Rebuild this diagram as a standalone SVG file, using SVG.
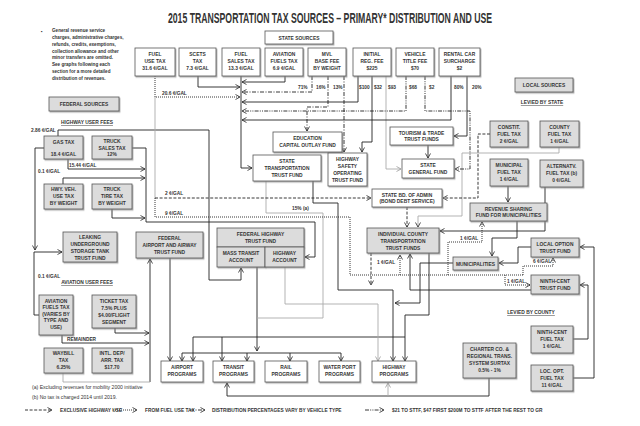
<svg xmlns="http://www.w3.org/2000/svg" width="640" height="426" viewBox="0 0 640 426">
<defs>
<filter id="sh" x="-10%" y="-10%" width="130%" height="140%"><feDropShadow dx="1" dy="1.2" stdDeviation="0.5" flood-color="#888" flood-opacity="0.7"/></filter>
<marker id="a" markerWidth="6" markerHeight="6" refX="5" refY="3" orient="auto" markerUnits="userSpaceOnUse"><path d="M0.5,0.5 L5,3 L0.5,5.5" fill="none" stroke="#222" stroke-width="0.8"/></marker>
<marker id="ag" markerWidth="6" markerHeight="6" refX="5" refY="3" orient="auto" markerUnits="userSpaceOnUse"><path d="M0.5,0.5 L5,3 L0.5,5.5" fill="none" stroke="#999" stroke-width="0.8"/></marker>
</defs>
<style>
.w{fill:#fff;stroke:#555;stroke-width:0.8;filter:url(#sh)}
.f{fill:#dcdcdc;stroke:#555;stroke-width:0.8;filter:url(#sh)}
text{font-family:"Liberation Sans",Arial,sans-serif;font-weight:bold;fill:#333}
.t{font-size:4.9px;text-anchor:middle}
.l{font-size:4.8px}
.n{font-size:4.6px}
.fn{font-size:5.1px;font-weight:normal}
.u{text-decoration:underline}
.c{fill:none;stroke:#222;stroke-width:0.9}
.g{fill:none;stroke:#aaa;stroke-width:0.9}
.ma{marker-end:url(#a)}
.mg{marker-end:url(#ag)}
.da{stroke-dasharray:3 1.6}
.do{stroke-dasharray:1 1}
.dd{stroke-dasharray:4 1.5 1 1.5}
.ddd{stroke-dasharray:4 1.2 1 1.2 1 1.2}
</style>
<rect width="640" height="426" fill="#fff"/>
<text transform="translate(330,23) scale(0.6,1)" text-anchor="middle" font-size="14.5" fill="#111">2015 TRANSPORTATION TAX SOURCES – PRIMARY* DISTRIBUTION AND USE</text>
<g id="note">
<text x="41" y="33" class="n">▪</text>
<text class="n" x="52" y="32">General revenue service</text>
<text class="n" x="52" y="38.9">charges, administrative charges,</text>
<text class="n" x="52" y="45.7">refunds, credits, exemptions,</text>
<text class="n" x="52" y="52.6">collection allowance and other</text>
<text class="n" x="52" y="59.4">minor transfers are omitted.</text>
<text class="n" x="52" y="66.3">See graphs following each</text>
<text class="n" x="52" y="73.1">section for a more detailed</text>
<text class="n" x="52" y="80">distribution of revenues.</text>
</g>
<g id="connectors">
<path class="c ma" d="M198,76 V87 H240"/>
<path class="c ma" d="M241,76 V168 H252"/>
<path class="c ma" d="M285,76 V82 H242"/>
<path class="c ma" d="M358,76 V102 H242"/>
<path class="c ma" d="M372,76 V142 H362 V152"/>
<path class="g mg" d="M386,76 V169 H401"/>
<path class="c ma" d="M451,76 V120 H242"/>
<path class="c ma" d="M467,76 V136 H454"/>
<path class="c ma" d="M428,145 V158"/>
<path class="c ma" d="M508,186 V202"/>
<path class="c ma" d="M517,221 V238 H492 V256"/>
<path class="c ma" d="M545,187 V231 H440"/>
<path class="c ma" d="M531,247 H518 V263 H499"/>
<path class="c ma" d="M573,339 H588 V285 H580"/>
<path class="c ma" d="M573,378 H594 V247 H580"/>
<path class="c ma" d="M531,290 H410 V254"/>
<path class="c ma" d="M453,263 H420 V303 H395"/>
<path class="c ma" d="M429,253 V315 H405 V361"/>
<path class="c" d="M193,337 H405"/>
<path class="c ma" d="M193,337 V361"/>
<path class="c ma" d="M222,337 V361"/>
<path class="c ma" d="M313,181 V203 H338 V290 H393 V361"/>
<path class="c ma" d="M58,136 V130 H209 V280 H241 V268"/>
<path class="c ma" d="M257,267 V351"/>
<path class="c" d="M182,353 H341"/>
<path class="c ma" d="M182,353 V361"/>
<path class="c ma" d="M247,353 V361"/>
<path class="c ma" d="M290,353 V361"/>
<path class="c ma" d="M341,353 V361"/>
<path class="c ma" d="M170,258 V361"/>
<path class="c ma" d="M68,159 V169 H145"/>
<path class="c ma" d="M63,184 V178 H145"/>
<path class="c ma" d="M132,148 H146 V222 H315 V257 H305"/>
<path class="c ma" d="M112,209 V218 H145"/>
<path class="c ma" d="M44,148 H35 V250"/>
<path class="c ma" d="M39,315 H34 V252 H62"/>
<path class="c ma" d="M115,328 V333 H149"/>
<path class="c ma" d="M62,335 V343 H149"/>
<path class="c ma" d="M150,382 V259"/>
<path class="c ma" d="M489,378 V396 H227 V383"/>
<path class="g mg" d="M388,396 V383"/>
<path class="g ma" d="M559,147 V153 H462 V216 H418 V227"/>
<path class="g mg" d="M285,267 V304 H378 V361"/>
<path class="g" d="M266,181 V213 H323 V318 H257"/>
<path class="g" d="M63,373 V382 H150"/>
<path class="g" d="M155,97 V198"/>
<path class="c do ma" d="M155,76 V97 H240"/>
<path class="c do" d="M155,198 V217 H350 V275 H523"/>
<path class="c do ma" d="M400,275 V255"/>
<path class="c do ma" d="M448,275 V242 H482 V222"/>
<path class="c do ma" d="M505,275 V285 H530"/>
<path class="c do ma" d="M523,275 V266 H553 V258"/>
<path class="c da ma" d="M155,198 H371"/>
<path class="c da ma" d="M490,134 H478 V198 H443"/>
<path class="c da ma" d="M407,207 V227"/>
<path class="c da ma" d="M371,253 V285"/>
<path class="c dd ma" d="M312,76 V92 H242"/>
<path class="c dd ma" d="M328,76 V107 H307 V131"/>
<path class="c dd ma" d="M344,76 V152"/>
<path class="c ddd ma" d="M406,76 V111 H242"/>
<path class="c ddd ma" d="M425,76 V111 H470 V169 H455"/>
</g>
<g id="labels">
<text class="l" x="162" y="95">20.6 ¢/GAL</text>
<text class="l" x="298" y="89">71%</text>
<text class="l" x="316" y="89">16%</text>
<text class="l" x="333" y="89">13%</text>
<text class="l" x="359" y="89">$100</text>
<text class="l" x="374" y="89">$32</text>
<text class="l" x="388" y="89">$93</text>
<text class="l" x="409" y="89">$68</text>
<text class="l" x="429" y="89">$2</text>
<text class="l" x="454" y="89">80%</text>
<text class="l" x="472" y="89">20%</text>
<text class="l" x="69" y="167">15.44 ¢/GAL</text>
<text class="l" x="31" y="132">2.86 ¢/GAL</text>
<text class="l" x="38" y="173">0.1 ¢/GAL</text>
<text class="l" x="38" y="278">0.1 ¢/GAL</text>
<text class="l" x="67" y="341">REMAINDER</text>
<text class="l" x="165" y="195">2 ¢/GAL</text>
<text class="l" x="165" y="215">9 ¢/GAL</text>
<text class="l" x="292" y="210">15% (a)</text>
<text class="l" x="377" y="264">1 ¢/GAL</text>
<text class="l" x="460" y="240">1 ¢/GAL</text>
<text class="l" x="507" y="283">1 ¢/GAL</text>
<text class="l" x="533" y="263">6 ¢/GAL</text>
<text class="t u" x="87" y="124">HIGHWAY USER FEES</text>
<text class="t u" x="87" y="284">AVIATION USER FEES</text>
<text class="t u" x="542" y="104">LEVIED BY STATE</text>
<text class="t u" x="531" y="314">LEVIED BY COUNTY</text>
</g>
<g id="n-federal-sources"><rect class="f" x="49" y="97" width="70" height="14"/><text class="t" x="84" y="106">FEDERAL SOURCES</text></g>
<g id="n-state-sources"><rect class="w" x="265" y="31" width="68" height="13"/><text class="t" x="299" y="39.5">STATE SOURCES</text></g>
<g id="n-local-sources"><rect class="f" x="515" y="78" width="58" height="14"/><text class="t" x="544" y="87">LOCAL SOURCES</text></g>
<g id="n-fuel-use"><rect class="w" x="135" y="48" width="40" height="28"/><text class="t" x="155" y="56">FUEL</text><text class="t" x="155" y="63">USE TAX</text><text class="t" x="155" y="70">31.6 ¢/GAL</text></g>
<g id="n-scets"><rect class="w" x="179" y="48" width="37" height="28"/><text class="t" x="197.5" y="56">SCETS</text><text class="t" x="197.5" y="63">TAX</text><text class="t" x="197.5" y="70">7.3 ¢/GAL</text></g>
<g id="n-fuel-sales"><rect class="w" x="222" y="48" width="38" height="28"/><text class="t" x="241" y="56">FUEL</text><text class="t" x="241" y="63">SALES TAX</text><text class="t" x="241" y="70">13.3 ¢/GAL</text></g>
<g id="n-aviation-state"><rect class="w" x="265" y="48" width="38" height="28"/><text class="t" x="284" y="56">AVIATION</text><text class="t" x="284" y="63">FUELS TAX</text><text class="t" x="284" y="70">6.9 ¢/GAL</text></g>
<g id="n-mvl"><rect class="w" x="308" y="48" width="38" height="28"/><text class="t" x="327" y="56">MVL</text><text class="t" x="327" y="63">BASE FEE</text><text class="t" x="327" y="70">BY WEIGHT</text></g>
<g id="n-initial-reg"><rect class="w" x="353" y="48" width="38" height="28"/><text class="t" x="372" y="56">INITIAL</text><text class="t" x="372" y="63">REG. FEE</text><text class="t" x="372" y="70">$225</text></g>
<g id="n-vehicle-title"><rect class="w" x="396" y="48" width="38" height="28"/><text class="t" x="415" y="56">VEHICLE</text><text class="t" x="415" y="63">TITLE FEE</text><text class="t" x="415" y="70">$70</text></g>
<g id="n-rental-car"><rect class="w" x="439" y="48" width="41" height="28"/><text class="t" x="459.5" y="56">RENTAL CAR</text><text class="t" x="459.5" y="63">SURCHARGE</text><text class="t" x="459.5" y="70">$2</text></g>
<g id="n-education"><rect class="w" x="273" y="132" width="69" height="20"/><text class="t" x="307.5" y="140">EDUCATION</text><text class="t" x="307.5" y="147">CAPITAL OUTLAY FUND</text></g>
<g id="n-sttf"><rect class="w" x="253" y="155" width="68" height="26"/><text class="t" x="287" y="163">STATE</text><text class="t" x="287" y="170">TRANSPORTATION</text><text class="t" x="287" y="177">TRUST FUND</text></g>
<g id="n-highway-safety"><rect class="w" x="328" y="153" width="39" height="33"/><text class="t" x="347.5" y="161">HIGHWAY</text><text class="t" x="347.5" y="168">SAFETY</text><text class="t" x="347.5" y="175">OPERATING</text><text class="t" x="347.5" y="182">TRUST FUND</text></g>
<g id="n-tourism"><rect class="w" x="390" y="127" width="63" height="18"/><text class="t" x="421.5" y="134.5">TOURISM &amp; TRADE</text><text class="t" x="421.5" y="141">TRUST FUNDS</text></g>
<g id="n-sgf"><rect class="w" x="402" y="159" width="52" height="19"/><text class="t" x="428" y="166.5">STATE</text><text class="t" x="428" y="173.5">GENERAL FUND</text></g>
<g id="n-sba"><rect class="w" x="372" y="189" width="70" height="18"/><text class="t" x="407" y="196.5">STATE BD. OF ADMIN</text><text class="t" x="407" y="203">(BOND DEBT SERVICE)</text></g>
<g id="n-constit"><rect class="f" x="490" y="121" width="38" height="26"/><text class="t" x="509" y="129">CONSTIT.</text><text class="t" x="509" y="136">FUEL TAX</text><text class="t" x="509" y="143">2 ¢/GAL</text></g>
<g id="n-county-fuel"><rect class="f" x="540" y="121" width="39" height="26"/><text class="t" x="559.5" y="129">COUNTY</text><text class="t" x="559.5" y="136">FUEL TAX</text><text class="t" x="559.5" y="143">1 ¢/GAL</text></g>
<g id="n-municipal-fuel"><rect class="f" x="490" y="159" width="38" height="27"/><text class="t" x="509" y="167">MUNICIPAL</text><text class="t" x="509" y="174">FUEL TAX</text><text class="t" x="509" y="181">1 ¢/GAL</text></g>
<g id="n-alternatv"><rect class="f" x="540" y="160" width="43" height="27"/><text class="t" x="561.5" y="168">ALTERNATV.</text><text class="t" x="561.5" y="175">FUEL TAX (b)</text><text class="t" x="561.5" y="182">0 ¢/GAL</text></g>
<g id="n-revenue-sharing"><rect class="f" x="470" y="203" width="77" height="18"/><text class="t" x="508.5" y="210.5">REVENUE SHARING</text><text class="t" x="508.5" y="217">FUND FOR MUNICIPALITIES</text></g>
<g id="n-individual-county"><rect class="f" x="367" y="228" width="72" height="25"/><text class="t" x="403" y="235.5">INDIVIDUAL COUNTY</text><text class="t" x="403" y="242.5">TRANSPORTATION</text><text class="t" x="403" y="249.5">TRUST FUNDS</text></g>
<g id="n-municipalities"><rect class="f" x="453" y="257" width="45" height="13"/><text class="t" x="475.5" y="265.5">MUNICIPALITIES</text></g>
<g id="n-local-option"><rect class="f" x="531" y="238" width="48" height="19"/><text class="t" x="555" y="245.5">LOCAL OPTION</text><text class="t" x="555" y="252.5">TRUST FUND</text></g>
<g id="n-ninth-trust"><rect class="f" x="531" y="275" width="48" height="19"/><text class="t" x="555" y="282.5">NINTH-CENT</text><text class="t" x="555" y="289.5">TRUST FUND</text></g>
<g id="n-ninth-fuel"><rect class="f" x="531" y="326" width="42" height="27"/><text class="t" x="552" y="334">NINTH-CENT</text><text class="t" x="552" y="341">FUEL TAX</text><text class="t" x="552" y="348">1 ¢/GAL</text></g>
<g id="n-loc-opt-fuel"><rect class="f" x="531" y="365" width="42" height="26"/><text class="t" x="552" y="373">LOC. OPT.</text><text class="t" x="552" y="380">FUEL TAX</text><text class="t" x="552" y="387">11 ¢/GAL</text></g>
<g id="n-charter"><rect class="f" x="463" y="343" width="53" height="35"/><text class="t" x="489.5" y="351">CHARTER CO. &amp;</text><text class="t" x="489.5" y="358">REGIONAL TRANS.</text><text class="t" x="489.5" y="365">SYSTEM SURTAX</text><text class="t" x="489.5" y="372">0.5% - 1%</text></g>
<g id="n-gas-tax"><rect class="f" x="44" y="136" width="39" height="23"/><text class="t" x="63.5" y="143.5">GAS TAX</text><text class="t" x="63.5" y="156">18.4 ¢/GAL</text></g>
<g id="n-truck-sales"><rect class="f" x="92" y="136" width="40" height="23"/><text class="t" x="112" y="143">TRUCK</text><text class="t" x="112" y="149.5">SALES TAX</text><text class="t" x="112" y="156">12%</text></g>
<g id="n-hwy-veh"><rect class="f" x="44" y="184" width="39" height="25"/><text class="t" x="63.5" y="191">HWY. VEH.</text><text class="t" x="63.5" y="198">USE TAX</text><text class="t" x="63.5" y="205">BY WEIGHT</text></g>
<g id="n-truck-tire"><rect class="f" x="92" y="184" width="40" height="25"/><text class="t" x="112" y="191">TRUCK</text><text class="t" x="112" y="198">TIRE TAX</text><text class="t" x="112" y="205">BY WEIGHT</text></g>
<g id="n-leaking"><rect class="f" x="63" y="232" width="54" height="30"/><text class="t" x="90" y="239">LEAKING</text><text class="t" x="90" y="246">UNDERGROUND</text><text class="t" x="90" y="253">STORAGE TANK</text><text class="t" x="90" y="260">TRUST FUND</text></g>
<g id="n-fed-airport"><rect class="f" x="136" y="232" width="67" height="26"/><text class="t" x="169.5" y="240">FEDERAL</text><text class="t" x="169.5" y="247">AIRPORT AND AIRWAY</text><text class="t" x="169.5" y="254">TRUST FUND</text></g>
<g id="n-fed-highway"><rect class="f" x="217" y="228" width="87" height="19"/><text class="t" x="260.5" y="235.5">FEDERAL HIGHWAY</text><text class="t" x="260.5" y="242.5">TRUST FUND</text><rect class="f" x="217" y="247" width="48" height="20"/><text class="t" x="241" y="254.5">MASS TRANSIT</text><text class="t" x="241" y="261.5">ACCOUNT</text><rect class="f" x="265" y="247" width="39" height="20"/><text class="t" x="284.5" y="254.5">HIGHWAY</text><text class="t" x="284.5" y="261.5">ACCOUNT</text></g>
<g id="n-aviation-fed"><rect class="f" x="39" y="295" width="34" height="40"/><text class="t" x="56" y="302.5">AVIATION</text><text class="t" x="56" y="309">FUELS TAX</text><text class="t" x="56" y="315.5">(VARIES BY</text><text class="t" x="56" y="322">TYPE AND</text><text class="t" x="56" y="328.5">USE)</text></g>
<g id="n-ticket"><rect class="f" x="92" y="295" width="44" height="33"/><text class="t" x="114" y="302.5">TICKET TAX</text><text class="t" x="114" y="309.5">7.5% PLUS</text><text class="t" x="114" y="316.5">$4.00/FLIGHT</text><text class="t" x="114" y="323.5">SEGMENT</text></g>
<g id="n-waybill"><rect class="f" x="44" y="348" width="39" height="25"/><text class="t" x="63.5" y="355">WAYBILL</text><text class="t" x="63.5" y="362">TAX</text><text class="t" x="63.5" y="369">6.25%</text></g>
<g id="n-intl"><rect class="f" x="92" y="348" width="40" height="25"/><text class="t" x="112" y="355">INTL. DEP/</text><text class="t" x="112" y="362">ARR. TAX</text><text class="t" x="112" y="369">$17.70</text></g>
<g id="n-airport-prog"><rect class="w" x="161" y="361" width="42" height="21"/><text class="t" x="182" y="369">AIRPORT</text><text class="t" x="182" y="376">PROGRAMS</text></g>
<g id="n-transit-prog"><rect class="w" x="213" y="361" width="41" height="21"/><text class="t" x="233.5" y="369">TRANSIT</text><text class="t" x="233.5" y="376">PROGRAMS</text></g>
<g id="n-rail-prog"><rect class="w" x="265" y="361" width="42" height="21"/><text class="t" x="286" y="369">RAIL</text><text class="t" x="286" y="376">PROGRAMS</text></g>
<g id="n-water-prog"><rect class="w" x="319" y="361" width="41" height="21"/><text class="t" x="339.5" y="369">WATER PORT</text><text class="t" x="339.5" y="376">PROGRAMS</text></g>
<g id="n-highway-prog"><rect class="w" x="372" y="361" width="44" height="21"/><text class="t" x="394" y="369">HIGHWAY</text><text class="t" x="394" y="376">PROGRAMS</text></g>
<g id="footnotes">
<text class="fn" x="32" y="389">(a) Excluding revenues for mobility 2000 initiative</text>
<text class="fn" x="32" y="399">(b) No tax is charged 2014 until 2019.</text>
</g>
<g id="legend">
<path class="c da ma" d="M25,410 H52"/><text class="l" x="60" y="412">EXCLUSIVE HIGHWAY USE</text>
<path class="c do ma" d="M113,410 H137"/><text class="l" x="145" y="412">FROM FUEL USE TAX</text>
<path class="c dd ma" d="M190,410 H205"/><text class="l" x="212" y="412">DISTRIBUTION PERCENTAGES VARY BY VEHICLE TYPE</text>
<path class="c ddd ma" d="M365,410 H384"/><text class="l" x="392" y="412">$21 TO STTF, $47 FIRST $200M TO STTF  AFTER THE REST TO GR</text>
</g>
</svg>
